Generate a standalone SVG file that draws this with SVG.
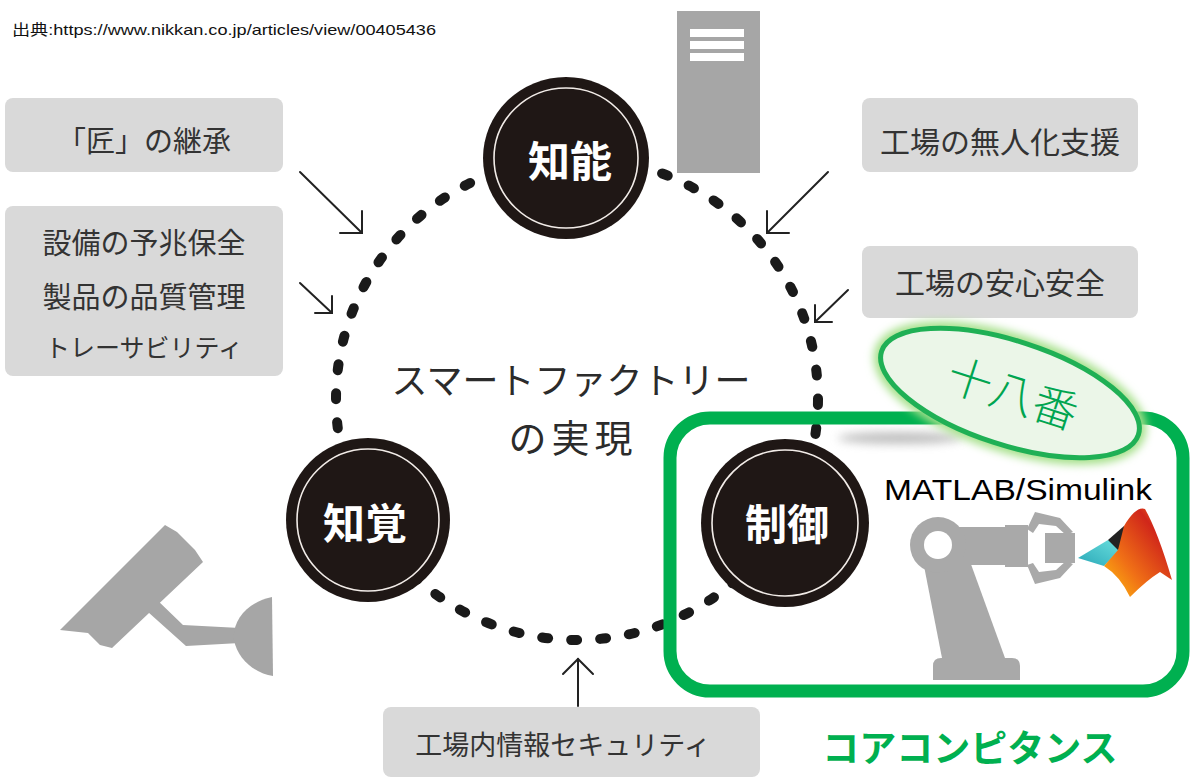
<svg xmlns="http://www.w3.org/2000/svg" width="1203" height="779" viewBox="0 0 1203 779">
  <defs>
    <style>
      .jp { font-family: "Noto Sans CJK JP", "Noto Sans", sans-serif; }
      .box { fill: #d9d9d9; }
      .boxtxt { fill: #333; font-size: 29px; text-anchor: middle; }
      .hub { fill: #1f1715; }
      .ring { fill: none; stroke: #f2ece8; stroke-width: 1.6; }
      .hubtxt { fill: #fff; font-size: 42px; font-weight: bold; text-anchor: middle; }
      .icon { fill: #a6a6a6; }
      .arrow { fill: none; stroke: #222; stroke-width: 2; stroke-linecap: round; stroke-linejoin: miter; }
      .dots { fill: none; stroke: #1a1a1a; stroke-width: 10; stroke-linecap: round; stroke-dasharray: 6 23.1; }
      .green { fill: #00b050; }
    </style>
    <filter id="glow" x="-20%" y="-30%" width="140%" height="160%">
      <feGaussianBlur stdDeviation="4"/>
    </filter>
    <filter id="soft" x="-30%" y="-200%" width="160%" height="500%">
      <feGaussianBlur stdDeviation="5"/>
    </filter>
    <linearGradient id="mlCyan" x1="0" y1="1" x2="1" y2="0">
      <stop offset="0" stop-color="#2aa8b8"/>
      <stop offset="1" stop-color="#6be0de"/>
    </linearGradient>
    <linearGradient id="mlRed" x1="0" y1="1" x2="1" y2="0">
      <stop offset="0" stop-color="#ffc20e"/>
      <stop offset="0.35" stop-color="#f07016"/>
      <stop offset="0.75" stop-color="#d0261a"/>
      <stop offset="1" stop-color="#ff8a1e"/>
    </linearGradient>
  </defs>

  <rect width="1203" height="779" fill="#fff"/>

  <!-- source line -->
  <text x="12" y="35" font-family="'Liberation Sans', 'Noto Sans CJK JP', sans-serif" font-size="15" fill="#111" textLength="424" lengthAdjust="spacingAndGlyphs">出典:https://www.nikkan.co.jp/articles/view/00405436</text>

  <!-- dotted cycle and arrows -->
  <g id="connectors">
    <circle class="dots" cx="577" cy="399" r="241"/>
    <g class="arrow">
      <line x1="300" y1="172" x2="362" y2="233"/>
      <polyline points="362,211 362,233 340,233"/>
      <line x1="300" y1="283" x2="332" y2="313"/>
      <polyline points="332,296 332,313 315,313"/>
      <line x1="828" y1="172" x2="767" y2="233"/>
      <polyline points="767,211 767,233 789,233"/>
      <line x1="848" y1="290" x2="815" y2="322"/>
      <polyline points="815,305 815,322 832,322"/>
      <line x1="578" y1="706" x2="578" y2="659"/>
      <polyline points="563,674 578,659 593,674"/>
    </g>
  </g>

  <!-- server icon -->
  <g id="server">
    <rect class="icon" x="677" y="11" width="83" height="162"/>
    <rect x="690" y="29" width="54" height="8" fill="#fff"/>
    <rect x="690" y="41" width="54" height="8" fill="#fff"/>
    <rect x="690" y="53" width="54" height="8" fill="#fff"/>
  </g>

  <!-- surveillance camera icon -->
  <g id="camera" class="icon">
    <polygon points="60,630 165,525 177,532 195,550 203,562 112,648 100,645 88,633"/>
    <polygon points="155,598 183,625 240,628 240,643 186,646 148,612"/>
    <path d="M272,597 L273,676 C255,673 238,660 234,640 C232,620 248,602 272,597 Z"/>
  </g>

  <!-- input boxes -->
  <g id="box-takumi" class="jp">
    <rect class="box" x="5" y="98" width="278" height="74" rx="8"/>
    <text class="boxtxt" x="144" y="152" font-size="28">「匠」の継承</text>
  </g>
  <g id="box-maintenance" class="jp">
    <rect class="box" x="5" y="206" width="278" height="170" rx="8"/>
    <text class="boxtxt" x="144" y="254">設備の予兆保全</text>
    <text class="boxtxt" x="144" y="308">製品の品質管理</text>
    <text class="boxtxt" x="144" y="357" style="font-size:25px">トレーサビリティ</text>
  </g>
  <g id="box-unmanned" class="jp">
    <rect class="box" x="862" y="98" width="276" height="74" rx="8"/>
    <text class="boxtxt" x="1000" y="153" style="font-size:30px">工場の無人化支援</text>
  </g>
  <g id="box-safety" class="jp">
    <rect class="box" x="862" y="246" width="276" height="72" rx="8"/>
    <text class="boxtxt" x="1000" y="294" style="font-size:30px">工場の安心安全</text>
  </g>
  <g id="box-security" class="jp">
    <rect class="box" x="383" y="707" width="377" height="70" rx="8"/>
    <text class="boxtxt" x="563" y="755" style="font-size:27px">工場内情報セキュリティ</text>
  </g>

  <!-- centre caption -->
  <g id="caption" class="jp" fill="#2b2b2b" text-anchor="middle">
    <text x="571" y="394" font-size="36">スマートファクトリー</text>
    <text x="573" y="452" font-size="38" letter-spacing="5">の実現</text>
  </g>

  <!-- hubs -->
  <g id="hub-intelligence" class="jp">
    <ellipse class="hub" cx="566" cy="158" rx="83" ry="81"/>
    <ellipse class="ring" cx="566" cy="158" rx="72" ry="70"/>
    <text class="hubtxt" x="570" y="177">知能</text>
  </g>
  <g id="hub-perception" class="jp">
    <circle class="hub" cx="368" cy="520" r="82"/>
    <circle class="ring" cx="368" cy="520" r="71"/>
    <text class="hubtxt" x="365" y="539">知覚</text>
  </g>
  <g id="hub-control" class="jp">
    <circle class="hub" cx="785" cy="523" r="84"/>
    <circle class="ring" cx="785" cy="523" r="73"/>
    <text class="hubtxt" x="787" y="540">制御</text>
  </g>

  <!-- core competence frame -->
  <g id="core">
    <ellipse cx="900" cy="438" rx="62" ry="6" fill="#8a8a8a" opacity="0.55" filter="url(#soft)"/>
    <rect x="670" y="418" width="513" height="273" rx="40" fill="none" stroke="#00b050" stroke-width="13"/>
    <text x="1018" y="500" font-family="'Liberation Sans', sans-serif" font-size="30" fill="#000" text-anchor="middle" textLength="268" lengthAdjust="spacingAndGlyphs">MATLAB/Simulink</text>
    <text class="jp green" x="970" y="762" font-size="37" font-weight="bold" text-anchor="middle">コアコンピタンス</text>
  </g>

  <!-- robot arm -->
  <g id="robot" fill="#a9a9a9">
    <path d="M933,680 L933,666 Q933,658 941,658 L1012,658 Q1020,658 1020,666 L1020,680 Z"/>
    <polygon points="924,566 968,556 1005,658 942,658"/>
    <rect x="937" y="527" width="72" height="38"/>
    <circle cx="938" cy="545" r="28"/>
    <circle cx="938" cy="545" r="14" fill="#fff"/>
    <rect x="1005" y="525" width="23" height="42"/>
    <path d="M1027,529 L1035,512 L1060,518 L1073,532 L1066,535 L1056,526 L1039,524 L1033,533 Z"/>
    <path d="M1027,565 L1035,584 L1060,578 L1073,564 L1066,561 L1056,570 L1039,572 L1033,563 Z"/>
    <rect x="1045" y="533" width="30" height="30"/>
  </g>

  <!-- MATLAB membrane logo -->
  <g id="matlab-logo">
    <path d="M1078,558 L1108,540 L1122,547 L1104,566 Z" fill="url(#mlCyan)"/>
    <path d="M1108,540 L1124,526 L1128,538 L1118,550 Z" fill="#222"/>
    <path d="M1118,550 L1124,526 Q1136,506 1145,509 Q1158,532 1172,580 L1160,572 Q1147,580 1130,597 Q1120,576 1104,566 Z" fill="url(#mlRed)"/>
  </g>

  <!-- specialty badge -->
  <g id="badge">
    <ellipse cx="1010" cy="393" rx="135" ry="52" transform="rotate(18 1010 393)" fill="none" stroke="#a6e08a" stroke-width="14" filter="url(#glow)"/>
    <ellipse cx="1010" cy="393" rx="135" ry="52" transform="rotate(18 1010 393)" fill="#ebf6e8" stroke="#1fb055" stroke-width="5"/>
    <text class="jp" x="1012" y="410" font-size="45" font-weight="300" fill="#00a550" text-anchor="middle" transform="rotate(18 1012 396)">十八番</text>
  </g>
</svg>
